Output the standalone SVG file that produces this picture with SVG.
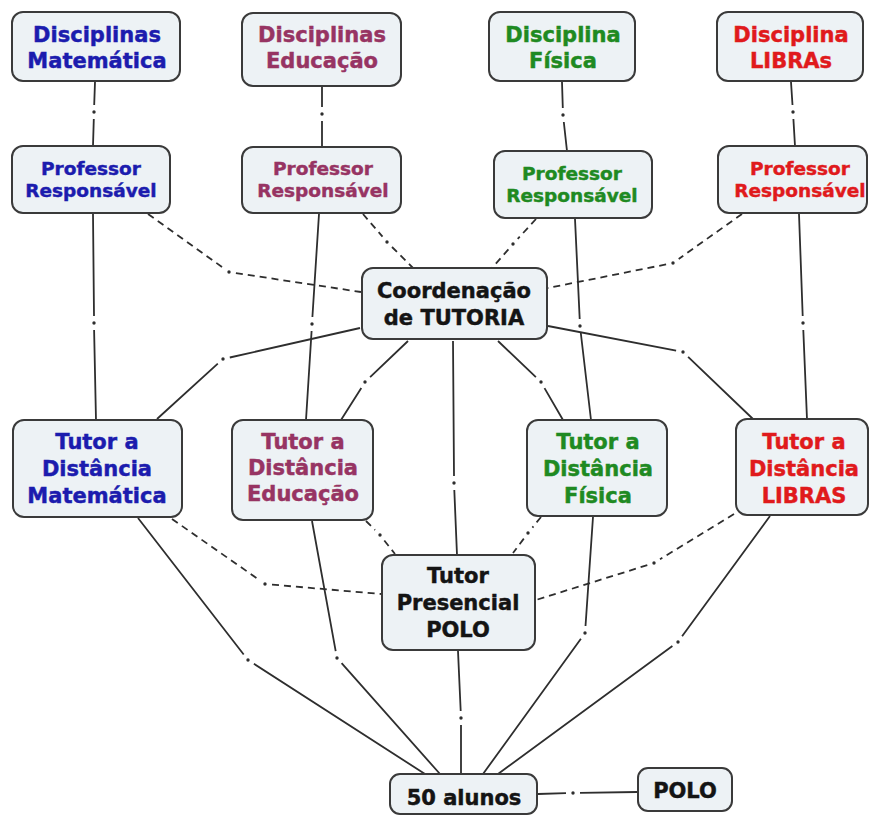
<svg xmlns="http://www.w3.org/2000/svg" width="869" height="816" viewBox="0 0 869 816">
<style>
.box{fill:#edf2f5;stroke:#3a3a3a;stroke-width:2}
text{font-family:"DejaVu Sans","Verdana",sans-serif;font-weight:bold;text-anchor:middle;stroke-width:0.45}
.big{font-size:21px}
.mid{font-size:18.5px}
.blue{fill:#1c1cae;stroke:#1c1cae}
.pur{fill:#973463;stroke:#973463}
.grn{fill:#1f8a22;stroke:#1f8a22}
.red{fill:#e01a1c;stroke:#e01a1c}
.blk{fill:#141414;stroke:#141414}
.ln{stroke:#2e2e2e;stroke-width:1.8;fill:none}
.ds{stroke:#2e2e2e;stroke-width:1.8;fill:none;stroke-dasharray:7 5}
.dot{fill:#2e2e2e}
</style>
<rect width="869" height="816" fill="#ffffff"/>
<g id="connectors">
  <!-- solid links -->
  <path class="ln" d="M95,82 L94.2,105 M93.8,119 L93,146"/>
  <path class="ln" d="M322,87 L322,107 M322,121 L322,147"/>
  <path class="ln" d="M562,82 L562.8,108 M563.8,122 L567,151"/>
  <path class="ln" d="M791,82 L792.5,105 M793.4,119 L795,146"/>
  <path class="ln" d="M93,214 L94,316 M94.1,330 L96,420"/>
  <path class="ln" d="M319,214 L312.4,317 M311.6,331 L306,420"/>
  <path class="ln" d="M575,219 L579.7,319 M580.8,333 L591,420"/>
  <path class="ln" d="M799,214 L802.7,316 M803.3,330 L807,419"/>
  <path class="ln" d="M360,328 L229.8,357.5 M217.8,363.7 L157,419"/>
  <path class="ln" d="M408,341 L370.1,377.2 M361.3,387.9 L341,420"/>
  <path class="ln" d="M453,341 L454,476 M454.3,490 L457,555"/>
  <path class="ln" d="M498,341 L535.9,377.2 M544.5,388.1 L563,420"/>
  <path class="ln" d="M548,326 L676.1,350.7 M688.1,356.8 L753,419"/>
  <path class="ln" d="M138,518 L243.7,654.5 M253.9,663.8 L425,774"/>
  <path class="ln" d="M312,521 L335.7,651.1 M341.6,663.2 L440,774"/>
  <path class="ln" d="M458,651 L460.7,711 M461,725 L461,774"/>
  <path class="ln" d="M593,517 L585.5,626 M580.9,638.7 L483,774"/>
  <path class="ln" d="M770,516 L682.1,636.3 M672.4,646.1 L498,774"/>
  <path class="ln" d="M538,794 L566,793.2 M580,792.9 L637,792"/>
  <!-- dashed links -->
  <path class="ds" d="M148,214 L223.3,267.9 M235.9,273.1 L361,292"/>
  <path class="ds" d="M363,214 L382.5,236.7 M392,247 L413,268"/>
  <path class="ds" d="M536,219 L517.7,238.9 M508.4,249.3 L492,268"/>
  <path class="ds" d="M742,214 L678.7,258.9 M666.1,264.4 L548,288"/>
  <path class="ds" d="M172,519 L259.3,580 M272,584.6 L381,594"/>
  <path class="ds" d="M366,521 L375,530 M384.3,540.5 L395,554"/>
  <path class="ds" d="M541,517 L532.4,527.6 M523.8,538.6 L513,553"/>
  <path class="ds" d="M734,514 L660,559.3 M647.3,565.1 L536,600"/>
  <!-- link dots -->
  <g class="dot">
    <circle cx="94" cy="112" r="1.7"/><circle cx="322" cy="114" r="1.7"/>
    <circle cx="563" cy="115" r="1.7"/><circle cx="793" cy="112" r="1.7"/>
    <circle cx="94" cy="323" r="1.7"/><circle cx="312" cy="324" r="1.7"/>
    <circle cx="580" cy="326" r="1.7"/><circle cx="803" cy="323" r="1.7"/>
    <circle cx="223" cy="359" r="1.7"/><circle cx="365" cy="382" r="1.7"/>
    <circle cx="454" cy="483" r="1.7"/><circle cx="541" cy="382" r="1.7"/>
    <circle cx="683" cy="352" r="1.7"/><circle cx="248" cy="660" r="1.7"/>
    <circle cx="337" cy="658" r="1.7"/><circle cx="461" cy="718" r="1.7"/>
    <circle cx="585" cy="633" r="1.7"/><circle cx="678" cy="642" r="1.7"/>
    <circle cx="573" cy="793" r="1.7"/>
    <circle cx="229" cy="272" r="1.7"/><circle cx="387" cy="242" r="1.7"/>
    <circle cx="513" cy="244" r="1.7"/><circle cx="673" cy="263" r="1.7"/>
    <circle cx="265" cy="584" r="1.7"/><circle cx="380" cy="535" r="1.7"/>
    <circle cx="528" cy="533" r="1.7"/><circle cx="654" cy="563" r="1.7"/>
  </g>
</g>
<g id="disc-mat"><rect class="box" x="12" y="12" width="168" height="69" rx="11"/><text class="big blue" x="97" y="42">Disciplinas</text><text class="big blue" x="97" y="68">Matemática</text></g>
<g id="disc-edu"><rect class="box" x="242" y="13" width="159" height="73" rx="11"/><text class="big pur" x="322" y="42">Disciplinas</text><text class="big pur" x="322" y="68">Educação</text></g>
<g id="disc-fis"><rect class="box" x="489" y="12" width="146" height="69" rx="11"/><text class="big grn" x="563" y="42">Disciplina</text><text class="big grn" x="563" y="68">Física</text></g>
<g id="disc-lib"><rect class="box" x="717" y="12" width="146" height="69" rx="11"/><text class="big red" x="791" y="42">Disciplina</text><text class="big red" x="791" y="68">LIBRAs</text></g>
<g id="prof-mat"><rect class="box" x="12" y="146" width="158" height="67" rx="11"/><text class="mid blue" x="91" y="175">Professor</text><text class="mid blue" x="91" y="197">Responsável</text></g>
<g id="prof-edu"><rect class="box" x="242" y="147" width="159" height="66" rx="11"/><text class="mid pur" x="323" y="175">Professor</text><text class="mid pur" x="323" y="197">Responsável</text></g>
<g id="prof-fis"><rect class="box" x="494" y="151" width="158" height="67" rx="11"/><text class="mid grn" x="572" y="180">Professor</text><text class="mid grn" x="572" y="202">Responsável</text></g>
<g id="prof-lib"><rect class="box" x="718" y="146" width="149" height="67" rx="11"/><text class="mid red" x="800" y="175">Professor</text><text class="mid red" x="800" y="197">Responsável</text></g>
<g id="coord"><rect class="box" x="362" y="268" width="185" height="71" rx="11"/><text class="big blk" x="454" y="298">Coordenação</text><text class="big blk" x="454" y="325">de TUTORIA</text></g>
<g id="tutor-mat"><rect class="box" x="13" y="420" width="169" height="97" rx="11"/><text class="big blue" x="97" y="449">Tutor a</text><text class="big blue" x="97" y="476">Distância</text><text class="big blue" x="97" y="503">Matemática</text></g>
<g id="tutor-edu"><rect class="box" x="232" y="420" width="141" height="100" rx="11"/><text class="big pur" x="303" y="449">Tutor a</text><text class="big pur" x="303" y="475">Distância</text><text class="big pur" x="303" y="501">Educação</text></g>
<g id="tutor-fis"><rect class="box" x="527" y="420" width="140" height="96" rx="11"/><text class="big grn" x="598" y="449">Tutor a</text><text class="big grn" x="598" y="476">Distância</text><text class="big grn" x="598" y="503">Física</text></g>
<g id="tutor-lib"><rect class="box" x="736" y="419" width="132" height="96" rx="11"/><text class="big red" x="804" y="449">Tutor a</text><text class="big red" x="804" y="476">Distância</text><text class="big red" x="804" y="503">LIBRAS</text></g>
<g id="tutor-presencial"><rect class="box" x="382" y="555" width="153" height="95" rx="11"/><text class="big blk" x="458" y="583">Tutor</text><text class="big blk" x="458" y="610">Presencial</text><text class="big blk" x="458" y="637">POLO</text></g>
<g id="alunos"><rect class="box" x="390" y="774" width="147" height="40" rx="10"/><text class="big blk" x="464" y="805">50 alunos</text></g>
<g id="polo"><rect class="box" x="638" y="768" width="94" height="43" rx="10"/><text class="big blk" x="685" y="798">POLO</text></g>
</svg>
